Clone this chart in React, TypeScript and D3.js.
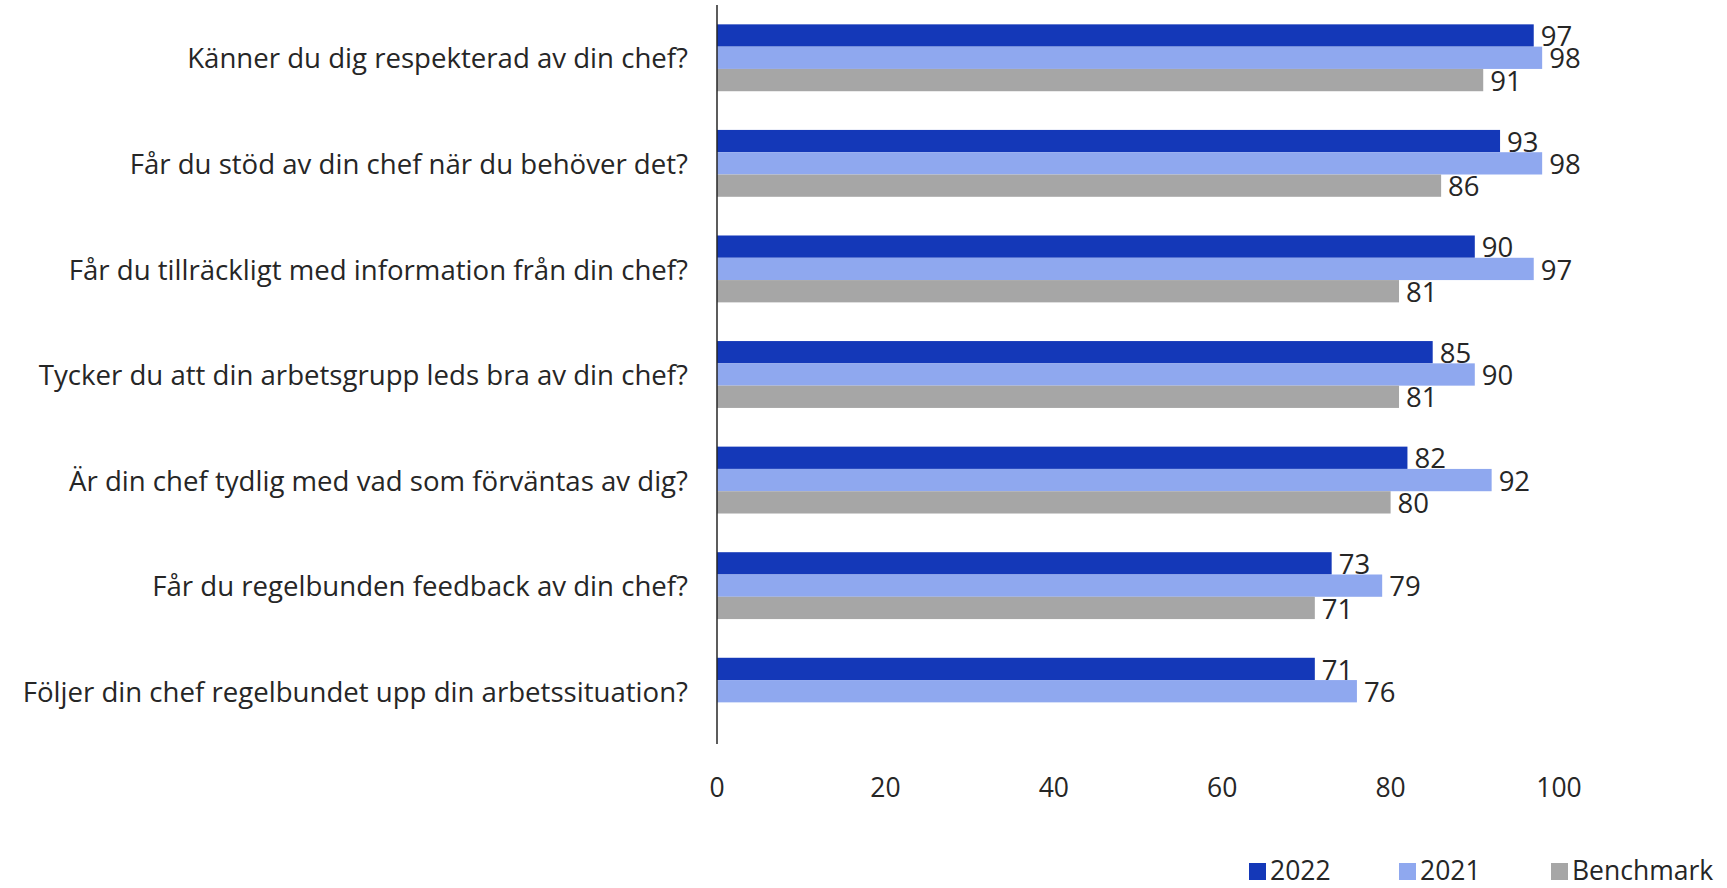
import React from "react";
import * as d3 from "d3";

const categories = [
  "Känner du dig respekterad av din chef?",
  "Får du stöd av din chef när du behöver det?",
  "Får du tillräckligt med information från din chef?",
  "Tycker du att din arbetsgrupp leds bra av din chef?",
  "Är din chef tydlig med vad som förväntas av dig?",
  "Får du regelbunden feedback av din chef?",
  "Följer din chef regelbundet upp din arbetssituation?",
];
const seriesNames = ["2022", "2021", "Benchmark"];
const values2022 = [97, 93, 90, 85, 82, 73, 71];
const values2021 = [98, 98, 97, 90, 92, 79, 76];
const valuesBenchmark: (number | null)[] = [91, 86, 81, 81, 80, 71, null];
const xTicks = [0, 20, 40, 60, 80, 100];
const colors = ["#1438b8", "#8fa8ef", "#a6a6a6"];

const W = 1727;
const H = 888;
const FONT = "'Open Sans', 'Noto Sans', sans-serif";

export default function App() {
  const x = d3.scaleLinear().domain([0, 100]).range([717, 1559]);
  const y = d3.scaleBand<string>().domain(categories).range([5, 744]).padding(0);
  const inner = d3
    .scaleBand<string>()
    .domain(seriesNames)
    .range([0, y.bandwidth()])
    .paddingInner(0)
    .paddingOuter(0.868);
  const seriesData = [values2022, values2021, valuesBenchmark];

  return (
    <svg
      width={W}
      height={H}
      style={{ position: "absolute", left: 0, top: 0, background: "#fff" }}
      fontFamily={FONT}
    >
      {categories.map((c, i) => (
        <g key={c}>
          <text
            x={x(0) - 29}
            y={(y(c) as number) + y.bandwidth() / 2 + 1}
            dy="0.35em"
            textAnchor="end"
            fontSize={27.6}
            fill="#262626"
          >
            {c}
          </text>
          {seriesNames.map((s, si) => {
            const v = seriesData[si][i];
            if (v == null) return null;
            const by = (y(c) as number) + (inner(s) as number);
            return (
              <g key={s}>
                <rect
                  x={x(0)}
                  y={by}
                  width={x(v) - x(0)}
                  height={inner.bandwidth()}
                  fill={colors[si]}
                />
                <text
                  x={x(v) + 7}
                  y={by + inner.bandwidth() / 2 + 1}
                  dy="0.35em"
                  fontSize={27.5}
                  fill="#262626"
                >
                  {v}
                </text>
              </g>
            );
          })}
        </g>
      ))}
      <line x1={x(0)} x2={x(0)} y1={5} y2={744} stroke="#262626" strokeWidth={1.5} />
      {xTicks.map((t) => (
        <text
          key={t}
          x={x(t)}
          y={788}
          dy="0.35em"
          textAnchor="middle"
          fontSize={26.5}
          fill="#262626"
        >
          {t}
        </text>
      ))}
      {seriesNames.map((s, si) => {
        const lx = [1249, 1399, 1551][si];
        return (
          <g key={s}>
            <rect x={lx} y={863} width={17} height={17} fill={colors[si]} />
            <text x={lx + 21} y={880} fontSize={26.5} fill="#262626">
              {s}
            </text>
          </g>
        );
      })}
    </svg>
  );
}
